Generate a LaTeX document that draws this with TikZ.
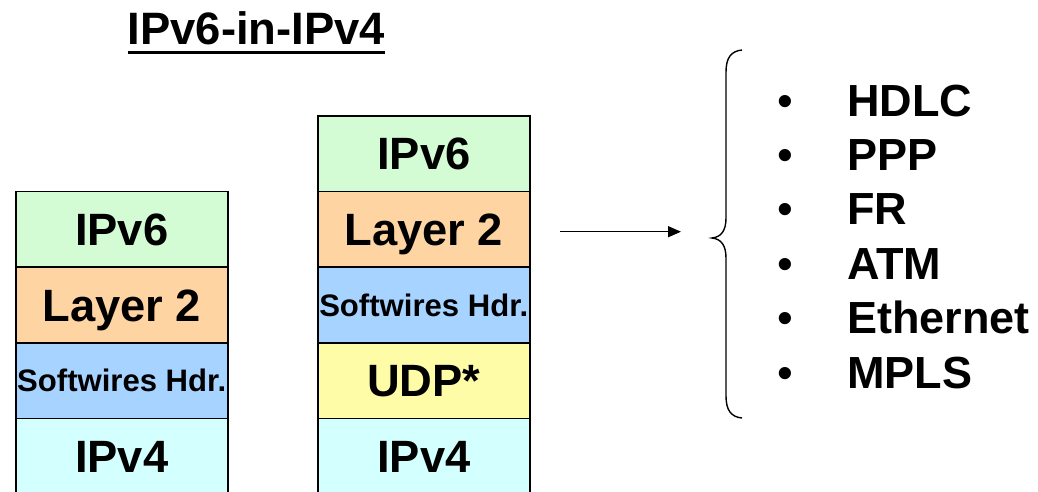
\documentclass[tikz,border=0pt]{standalone}
\usepackage{fontspec}
\setmainfont{Liberation Sans}
\usetikzlibrary{arrows.meta}
\definecolor{cGreen}{RGB}{212,252,212}
\definecolor{cPeach}{RGB}{255,212,163}
\definecolor{cBlue}{RGB}{166,211,255}
\definecolor{cYellow}{RGB}{255,252,168}
\definecolor{cCyan}{RGB}{212,255,255}
\tikzset{
  layer/.style={draw=black, line width=1.6pt, minimum width=212pt, minimum height=75.6pt,
    inner sep=0pt, outer sep=0pt, font=\fontsize{45.3}{45}\selectfont\bfseries,
    text height=32.4pt, text depth=0pt},
  smalltext/.style={font=\fontsize{31.1}{31}\selectfont\bfseries, text height=22.3pt},
  item/.style={anchor=base west, inner sep=0pt, font=\fontsize{45}{45}\selectfont\bfseries},
  bullet/.style={anchor=base, inner sep=0pt, font=\fontsize{45}{45}\selectfont},
  titletext/.style={anchor=base west, inner sep=0pt, font=\fontsize{45.4}{45}\selectfont\bfseries},
}
\begin{document}
\begin{tikzpicture}[x=1pt,y=-1pt]
\useasboundingbox (0,0) rectangle (1038,491);
\clip (0,0) rectangle (1038,491);
\fill[white] (0,0) rectangle (1038,491);

% title
\node[titletext] (title) at (127.5,44) {IPv6-in-IPv4};
\draw[line width=3pt] ([yshift=-8pt]title.base west) -- ([yshift=-8pt]title.base east);

% left stack
\node[layer, fill=cGreen, anchor=north] (l1) at (121.7,191.5) {IPv6};
\node[layer, fill=cPeach, anchor=north] (l2) at (l1.south) {Layer 2};
\node[layer, smalltext, fill=cBlue, anchor=north] (l3) at (l2.south) {Softwires Hdr.};
\node[layer, fill=cCyan, anchor=north] (l4) at (l3.south) {IPv4};

% right stack
\node[layer, fill=cGreen, anchor=north] (r1) at (423.8,115.9) {IPv6};
\node[layer, fill=cPeach, anchor=north] (r2) at (r1.south) {Layer 2};
\node[layer, smalltext, fill=cBlue, anchor=north] (r3) at (r2.south) {Softwires Hdr.};
\node[layer, fill=cYellow, anchor=north] (r4) at (r3.south) {UDP*};
\node[layer, fill=cCyan, anchor=north] (r5) at (r4.south) {IPv4};

% arrow
\coordinate (arrS) at (560,231.7);
\coordinate (arrE) at (681,231.7);
\draw[line width=1.3pt, -{Triangle[length=13pt,width=11pt]}] (arrS) -- (arrE);

% brace
\draw[line width=1.4pt] (742,50) .. controls (731,51) and (726,58) .. (726,72)
  -- (726,218) .. controls (726,231) and (721,237) .. (712,238)
  .. controls (721,239) and (726,245) .. (726,258)
  -- (726,396) .. controls (726,410) and (731,417) .. (742,418);

% list
\foreach \t [count=\i] in {HDLC,PPP,FR,ATM,Ethernet,MPLS}{
  \pgfmathsetmacro{\yb}{116+54.4*(\i-1)}
  \node[bullet] (b\i) at (785,\yb) {•};
  \node[item] (t\i) at (847,\yb) {\t};
}
\end{tikzpicture}
\end{document}
